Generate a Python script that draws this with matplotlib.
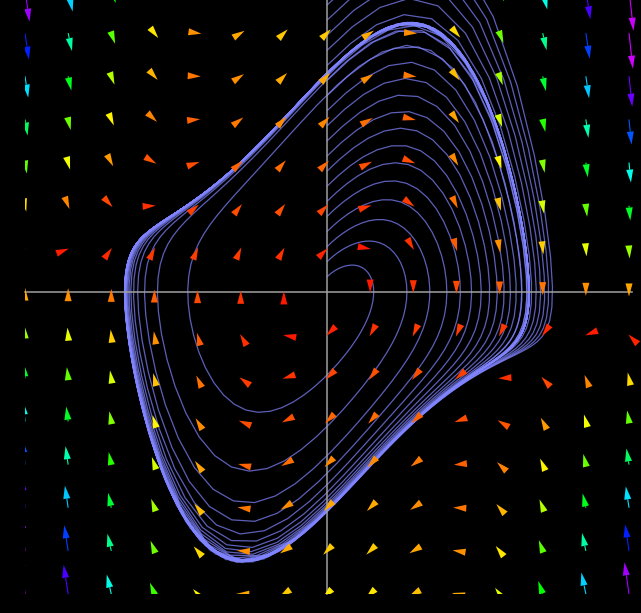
import numpy as np
import matplotlib
matplotlib.use("Agg")
import matplotlib.pyplot as plt
from matplotlib.collections import LineCollection, PolyCollection
from matplotlib.colors import hsv_to_rgb
from matplotlib.patches import Rectangle

# van der Pol oscillator:  x' = y,  y' = mu*(1 - x^2)*y - x
mu = 1.0

# trajectories all start on the positive y axis
start_x = 0.0
start_y = [0.15, 0.30, 0.45, 0.60, 0.75, 0.90, 1.05, 1.20, 1.35, 1.50,
           1.65, 1.80, 1.95, 2.10, 2.25, 2.40, 2.55, 2.70, 2.85, 3.00]
t_end = 20.0
dt = 0.1

# direction field sampled on a 15 x 15 grid over [-3, 3]
grid_lo, grid_hi, grid_n = -3.0, 3.0, 15

arrow_scale = 0.015   # data units per unit of speed
head_len = 0.13
head_w = 0.07
hue_top_speed = 22.0
hue_max = 0.8

traj_color = '#8084ff'
axis_color = '#a0a0a0'

# pixel layout: origin at (327, 292), ~100.7 px per unit
px_per_unit = 100.67
W, H = 641, 613
ox, oy = 327, 292


def field(x, y):
    return y, mu * (1 - x * x) * y - x


def rk4(x0, y0):
    xs, ys = [x0], [y0]
    x, y = x0, y0
    for _ in range(int(round(t_end / dt))):
        k1 = field(x, y)
        k2 = field(x + dt / 2 * k1[0], y + dt / 2 * k1[1])
        k3 = field(x + dt / 2 * k2[0], y + dt / 2 * k2[1])
        k4 = field(x + dt * k3[0], y + dt * k3[1])
        x += dt / 6 * (k1[0] + 2 * k2[0] + 2 * k3[0] + k4[0])
        y += dt / 6 * (k1[1] + 2 * k2[1] + 2 * k3[1] + k4[1])
        xs.append(x)
        ys.append(y)
    return np.column_stack([xs, ys])


fig = plt.figure(figsize=(W / 100, H / 100), dpi=100, facecolor='black')
ax = fig.add_axes([0, 0, 1, 1])
ax.set_facecolor('black')
ax.set_xlim(-ox / px_per_unit, (W - ox) / px_per_unit)
ax.set_ylim((oy - H) / px_per_unit, oy / px_per_unit)
ax.set_axis_off()

# trajectories
paths = [rk4(start_x, y0) for y0 in start_y]
ax.add_collection(LineCollection(paths, colors=traj_color, linewidths=0.9,
                                 alpha=0.72, zorder=1))

# coordinate axes
ax.plot([grid_lo, grid_hi + 0.03], [0, 0], color=axis_color, lw=1.1, zorder=2)
ax.plot([0, 0], [grid_lo, grid_hi], color=axis_color, lw=1.1, zorder=2)

# direction field
gx = np.linspace(grid_lo, grid_hi, grid_n)
X, Y = np.meshgrid(gx, gx)
U, V = field(X, Y)
S = np.hypot(U, V)

heads, shafts, head_cols, shaft_cols = [], [], [], []
for x, y, u, v, s in zip(X.ravel(), Y.ravel(), U.ravel(), V.ravel(), S.ravel()):
    if s == 0:
        continue
    ux, uy = u / s, v / s
    tip = np.array([x + arrow_scale * u, y + arrow_scale * v])
    base = tip - head_len * np.array([ux, uy])
    nrm = np.array([-uy, ux]) * head_w / 2
    col = hsv_to_rgb([hue_max * min(s / hue_top_speed, 1.0), 1.0, 1.0])
    heads.append([tip, base + nrm, base - nrm])
    head_cols.append(col)
    if arrow_scale * s > head_len:
        shafts.append([(x, y), tuple(base)])
        shaft_cols.append(col)

clip = Rectangle((grid_lo, grid_lo), 6.2, 6.2, transform=ax.transData)
shaft_lc = LineCollection(shafts, colors=shaft_cols, linewidths=0.8, zorder=3)
head_pc = PolyCollection(heads, facecolors=head_cols, edgecolors='none', zorder=4)
for c in (shaft_lc, head_pc):
    ax.add_collection(c)
    c.set_clip_path(clip)

fig.savefig('out.png', dpi=100, facecolor='black')
